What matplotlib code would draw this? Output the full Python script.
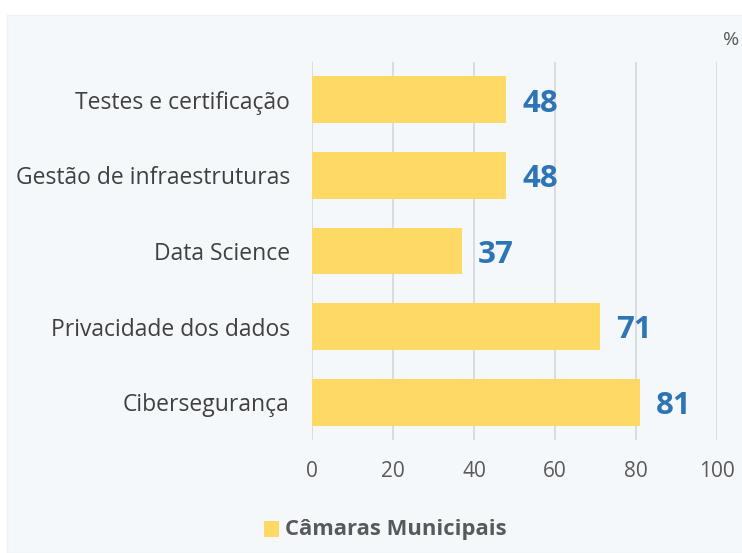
import matplotlib.pyplot as plt
from matplotlib.patches import Rectangle

# data (top to bottom as shown)
categories = ["Testes e certificação", "Gestão de infraestruturas", "Data Science",
              "Privacidade dos dados", "Cibersegurança"]
values = [48, 48, 37, 71, 81]
series_name = "Câmaras Municipais"

bar_color = "#FFD966"
label_color = "#2E75B6"
text_grey = "#595959"
panel_bg = "#F5F8FB"

plt.rcParams['font.family'] = ['Open Sans', 'DejaVu Sans']

fig = plt.figure(figsize=(7.42, 5.53), dpi=100)
fig.patch.set_facecolor("white")

# light panel behind the chart
panel = Rectangle((7 / 742, 0), 1, 1 - 15 / 553, transform=fig.transFigure,
                  facecolor=panel_bg, edgecolor="#EEF0F3", lw=1.0, zorder=-5)
fig.add_artist(panel)

ax = fig.add_axes([312 / 742, 1 - 440 / 553, 405 / 742, 378 / 553])
ax.set_facecolor("none")
ax.set_zorder(2)

ypos = list(range(len(categories)))
bars = ax.barh(ypos, values, height=0.62, color=bar_color, zorder=2)

for y, v in zip(ypos, values):
    ax.text(v + 4, y + 0.05, f"{v}", va="center", ha="left", fontsize=22.5,
            fontweight="bold", color=label_color, zorder=3)

ax.set_xlim(0, 100)
ax.set_xticks([0, 20, 40, 60, 80, 100])
ax.set_ylim(-0.5, len(categories) - 0.5)
ax.invert_yaxis()
ax.set_yticks(ypos)
ax.set_yticklabels(categories, fontsize=16.5, color="#404040")

ax.grid(axis="x", color="#D9D9D9", lw=1.3, zorder=1)
ax.set_axisbelow(True)
for s in ax.spines.values():
    s.set_visible(False)
ax.tick_params(axis="x", length=0, pad=15, labelsize=15, labelcolor=text_grey)
ax.tick_params(axis="y", length=0, pad=16)

fig.text(731 / 742, 1 - 40 / 553, "%", ha="center", va="center", fontsize=14, color=text_grey)

# legend
fig.add_artist(Rectangle((264 / 742, 1 - 537 / 553), 15 / 742, 16 / 553,
                         transform=fig.transFigure, facecolor=bar_color, edgecolor="none"))
fig.text(285 / 742, 1 - 530 / 553, series_name, ha="left", va="center", fontsize=15.8,
         fontweight="bold", color=text_grey)

fig.savefig("out.png", dpi=100)
